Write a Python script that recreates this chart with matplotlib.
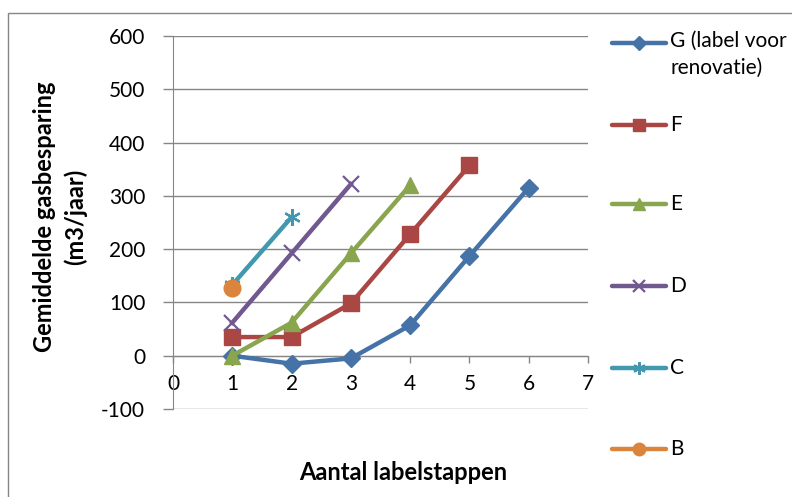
import matplotlib
matplotlib.use("Agg")
import matplotlib.pyplot as plt
from matplotlib.lines import Line2D
from matplotlib.patches import Rectangle

plt.rcParams['font.family'] = ['Lato', 'DejaVu Sans']
plt.rcParams['axes.unicode_minus'] = False

series_names = ["G (label voor\nrenovatie)", "F", "E", "D", "C", "B"]
x_G = [1, 2, 3, 4, 5, 6]
y_G = [0, -15, -5, 57, 187, 315]
x_F = [1, 2, 3, 4, 5]
y_F = [35, 35, 98, 228, 357]
x_E = [1, 2, 3, 4]
y_E = [0, 62, 192, 320]
x_D = [1, 2, 3]
y_D = [62, 192, 322]
x_C = [1, 2]
y_C = [133, 260]
x_B = [1]
y_B = [128]

xs = [x_G, x_F, x_E, x_D, x_C, x_B]
ys = [y_G, y_F, y_E, y_D, y_C, y_B]
colors = ["#4572A7", "#AA4643", "#89A54E", "#71588F", "#4198AF", "#DB843D"]
markers = ["D", "s", "^", "x", (6, 2, 0), "o"]
msizes = [9, 12, 12, 11, 12, 12]

W, H = 792, 497
fig = plt.figure(figsize=(W / 100, H / 100), dpi=100)
fig.patches.append(Rectangle((8 / W, -0.1), 1.2, 1 - 13 / H + 0.1, transform=fig.transFigure,
                             fill=False, edgecolor="#868686", lw=1.0))

ax = fig.add_axes([173 / W, 1 - 409 / H, (588 - 173) / W, (409 - 36) / H])
for x, y, c, m, s in zip(xs, ys, colors, markers, msizes):
    mew = 1.6 if m in ("x",) or isinstance(m, tuple) else 1
    ax.plot(x, y, color=c, lw=3.2, marker=m, markersize=s, markeredgewidth=mew,
            markeredgecolor=c, markerfacecolor=c, clip_on=False, zorder=3)

ax.set_xlim(0, 7)
ax.set_ylim(-100, 600)
ax.set_yticks(range(-100, 601, 100))
ax.set_xticks(range(0, 8))
ax.yaxis.grid(True, color="#868686", lw=1)
ax.set_axisbelow(True)
for sp in ("top", "right"):
    ax.spines[sp].set_visible(False)
ax.spines["bottom"].set_position(("data", 0))
ax.spines["bottom"].set_color("#868686")
ax.spines["left"].set_color("#868686")
ax.tick_params(axis="y", length=7, width=1, color="#868686", pad=13, labelsize=15)
ax.tick_params(axis="x", length=5, width=1, color="#868686", pad=8, labelsize=15)

fig.text(60 / W, 1 - 217 / H, "Gemiddelde gasbesparing\n(m3/jaar)", rotation=90,
         ha="center", va="center", fontsize=17, fontweight="bold", linespacing=1.35)
fig.text(403 / W, 1 - 473 / H, "Aantal labelstappen", ha="center", va="center",
         fontsize=17, fontweight="bold")

leg_y = [43, 125, 204, 286, 368, 449]
for name, c, m, s, ly in zip(series_names, colors, markers, msizes, leg_y):
    yf = 1 - ly / H
    mew = 1.6 if m in ("x",) or isinstance(m, tuple) else 1
    fig.add_artist(Line2D([612 / W, 666 / W], [yf, yf], transform=fig.transFigure,
                          color=c, lw=3.2, solid_capstyle="round"))
    fig.add_artist(Line2D([639 / W], [yf], transform=fig.transFigure, color=c,
                          marker=m, markersize=s * 0.75, markeredgewidth=mew,
                          markeredgecolor=c, markerfacecolor=c))
    if "\n" in name:
        fig.text(670 / W, yf + 12 / H, name, ha="left", va="top", fontsize=15, linespacing=1.45)
    else:
        fig.text(670 / W, yf, name, ha="left", va="center", fontsize=15)

fig.savefig("out.png", dpi=100)
